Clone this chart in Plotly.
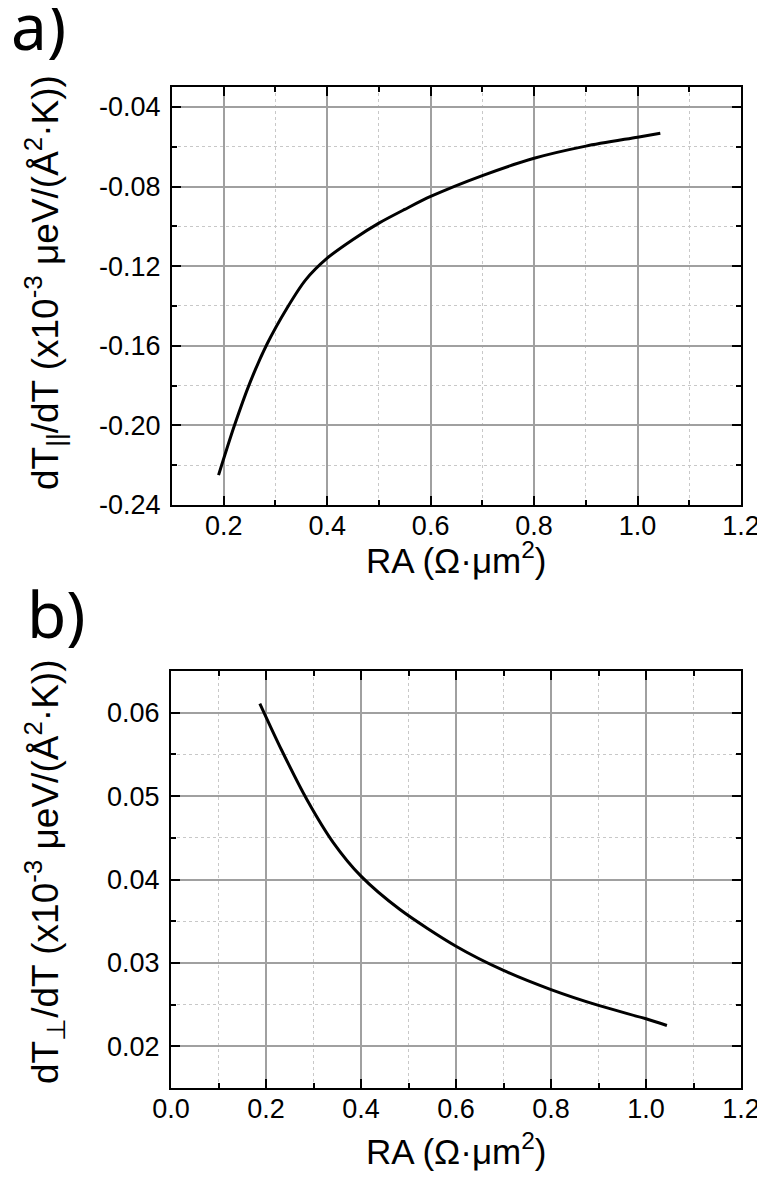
import plotly.graph_objects as go

# Panel a) data
ra_par = [0.19, 0.22, 0.25, 0.284, 0.3225, 0.358, 0.40, 0.45, 0.50, 0.55, 0.60, 0.70, 0.80, 0.90, 1.00, 1.044]
dtpar = [-0.225, -0.2006, -0.179, -0.159, -0.141, -0.127, -0.116, -0.1066, -0.0984, -0.0915, -0.085, -0.0745, -0.0658, -0.0597, -0.0552, -0.0532]

# Panel b) data
ra_perp = [0.187, 0.233, 0.286, 0.342, 0.40, 0.482, 0.60, 0.70, 0.80, 0.90, 1.00, 1.044]
dtperp = [0.0611, 0.0555, 0.0496, 0.0444, 0.0404, 0.0364, 0.0320, 0.0291, 0.0268, 0.0249, 0.0233, 0.0225]

# Tick labels
ytick_a_vals = [-0.24, -0.20, -0.16, -0.12, -0.08, -0.04]
ytick_a_text = ["-0.24", "-0.20", "-0.16", "-0.12", "-0.08", "-0.04"]
ytick_b_vals = [0.02, 0.03, 0.04, 0.05, 0.06]
ytick_b_text = ["0.02", "0.03", "0.04", "0.05", "0.06"]

# page body has an 8px default margin; lay out in page pixels and shift
OFF = 8
W, H = 765 - OFF, 1188 - OFF
FONT = "Liberation Sans, Arial, sans-serif"

def px(x):
    return (x - OFF) / W

def py(y):
    return 1 - (y - OFF) / H

fig = go.Figure()
fig.add_trace(go.Scatter(x=ra_par, y=dtpar, mode="lines",
                         line=dict(color="black", width=3, shape="spline", smoothing=0.8),
                         xaxis="x", yaxis="y", showlegend=False))
fig.add_trace(go.Scatter(x=ra_perp, y=dtperp, mode="lines",
                         line=dict(color="black", width=3, shape="spline", smoothing=0.8),
                         xaxis="x2", yaxis="y2", showlegend=False))

common = dict(
    showline=True, linecolor="black", linewidth=2, mirror="allticks",
    ticks="inside", ticklen=9, tickwidth=2, tickcolor="black",
    showgrid=True, gridcolor="#a0a0a0", gridwidth=1.5, zeroline=False, automargin=False,
    tickfont=dict(family=FONT, size=27, color="black"),
)
minor_common = dict(ticks="inside", ticklen=5, tickwidth=1.5, tickcolor="black",
                    showgrid=True, gridcolor="#c8c8c8", griddash="dot", gridwidth=1)

fig.update_layout(
    width=W, height=H, margin=dict(l=0, r=0, t=0, b=0, autoexpand=False),
    paper_bgcolor="white", plot_bgcolor="white",
    xaxis=dict(domain=[px(172), px(741)], range=[0.1, 1.2], tick0=0, dtick=0.2, tickformat=".1f",
               minor=dict(dtick=0.1, tick0=0, **minor_common), anchor="y", ticklabelstandoff=-4, **common),
    yaxis=dict(domain=[py(505), py(87)], range=[-0.24, -0.03], tickmode="array",
               tickvals=ytick_a_vals, ticktext=ytick_a_text,
               minor=dict(dtick=0.02, tick0=-0.24, **minor_common), anchor="x", ticklabelstandoff=4, **common),
    xaxis2=dict(domain=[px(171), px(741)], range=[0, 1.2], tick0=0, dtick=0.2, tickformat=".1f",
                minor=dict(dtick=0.1, tick0=0, **minor_common), anchor="y2", ticklabelstandoff=-4, **common),
    yaxis2=dict(domain=[py(1088), py(671)], range=[0.015, 0.065], tickmode="array",
                tickvals=ytick_b_vals, ticktext=ytick_b_text,
                minor=dict(dtick=0.005, tick0=0.015, **minor_common), anchor="x2", ticklabelstandoff=4, **common),
)

title_font = dict(family=FONT, size=37, color="black")
xtitle_font = dict(family=FONT, size=35, color="black")
label_font = dict(family="Noto Sans, Open Sans, sans-serif", size=64, color="black")
xtitle = "RA (Ω·μm<sup>2</sup>)"
ann = [
    dict(text="a)", x=px(38), y=py(26), font=label_font),
    dict(text="b)", x=px(56), y=py(613), font=label_font),
    dict(text=xtitle, x=px(456), y=py(558), font=xtitle_font),
    dict(text=xtitle, x=px(456), y=py(1149), font=xtitle_font),
    dict(text="dT<sub>||</sub>/dT (x10<sup>-3</sup> μeV/(Å<sup>2</sup>·K))", x=px(44), y=py(283),
         textangle=-90, font=title_font),
    dict(text="dT<sub>⊥</sub>/dT (x10<sup>-3</sup> μeV/(Å<sup>2</sup>·K))", x=px(44), y=py(872),
         textangle=-90, font=title_font),
]
for a in ann:
    a.update(xref="paper", yref="paper", showarrow=False, xanchor="center", yanchor="middle")
fig.update_layout(annotations=ann)

fig.write_html("out.html")
